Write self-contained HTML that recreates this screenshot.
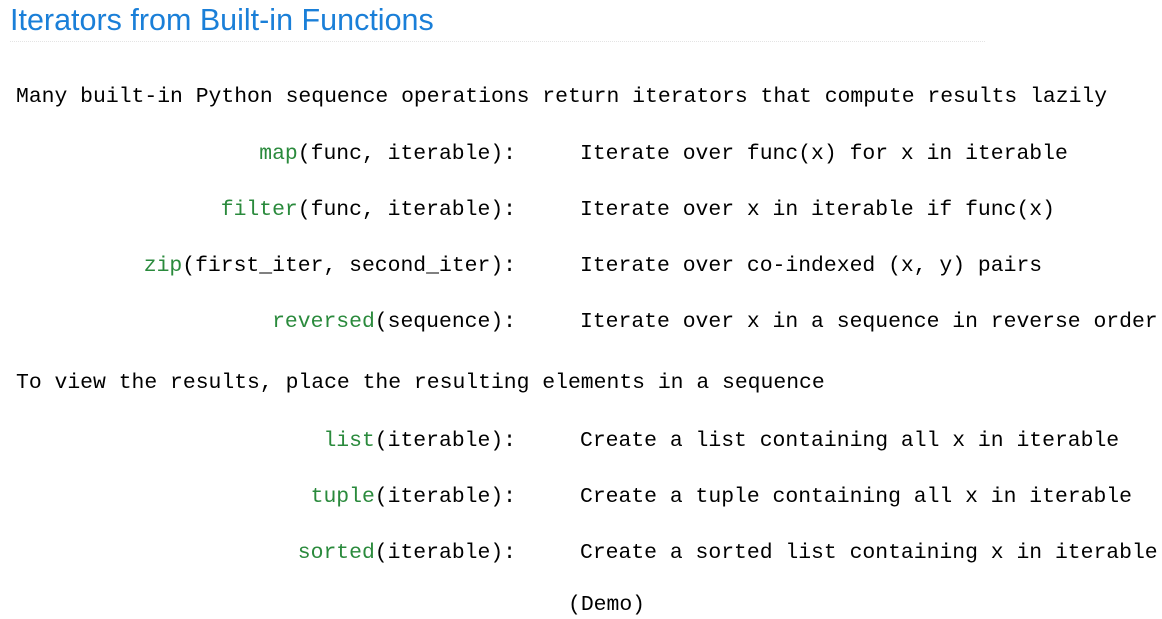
<!DOCTYPE html>
<html><head><style>
body{margin:0;width:1162px;height:619px;background:#fff;position:relative;overflow:hidden}
.t{position:absolute;left:10px;top:3px;font:30.5px "Liberation Sans",sans-serif;color:#1a7fd8;white-space:nowrap}
.hr{position:absolute;left:10px;top:41px;width:975px;border-top:1px dotted #e4e4e4}
.m{position:absolute;font:21.4px/26px "Liberation Mono",monospace;color:#000;white-space:pre}
.l{right:646px;text-align:right}
.r{left:580px}
.g{color:#2a8a3c}
</style></head><body>
<div class="t">Iterators from Built-in Functions</div>
<div class="hr"></div>
<div class="m" style="left:16px;top:84px">Many built-in Python sequence operations return iterators that compute results lazily</div>
<div class="m l" style="top:141px"><span class="g">map</span>(func, iterable):</div>
<div class="m r" style="top:141px">Iterate over func(x) for x in iterable</div>
<div class="m l" style="top:197px"><span class="g">filter</span>(func, iterable):</div>
<div class="m r" style="top:197px">Iterate over x in iterable if func(x)</div>
<div class="m l" style="top:253px"><span class="g">zip</span>(first_iter, second_iter):</div>
<div class="m r" style="top:253px">Iterate over co-indexed (x, y) pairs</div>
<div class="m l" style="top:309px"><span class="g">reversed</span>(sequence):</div>
<div class="m r" style="top:309px">Iterate over x in a sequence in reverse order</div>
<div class="m" style="left:16px;top:370px">To view the results, place the resulting elements in a sequence</div>
<div class="m l" style="top:428px"><span class="g">list</span>(iterable):</div>
<div class="m r" style="top:428px">Create a list containing all x in iterable</div>
<div class="m l" style="top:484px"><span class="g">tuple</span>(iterable):</div>
<div class="m r" style="top:484px">Create a tuple containing all x in iterable</div>
<div class="m l" style="top:540px"><span class="g">sorted</span>(iterable):</div>
<div class="m r" style="top:540px">Create a sorted list containing x in iterable</div>
<div class="m" style="left:568px;top:592px">(Demo)</div>
</body></html>
